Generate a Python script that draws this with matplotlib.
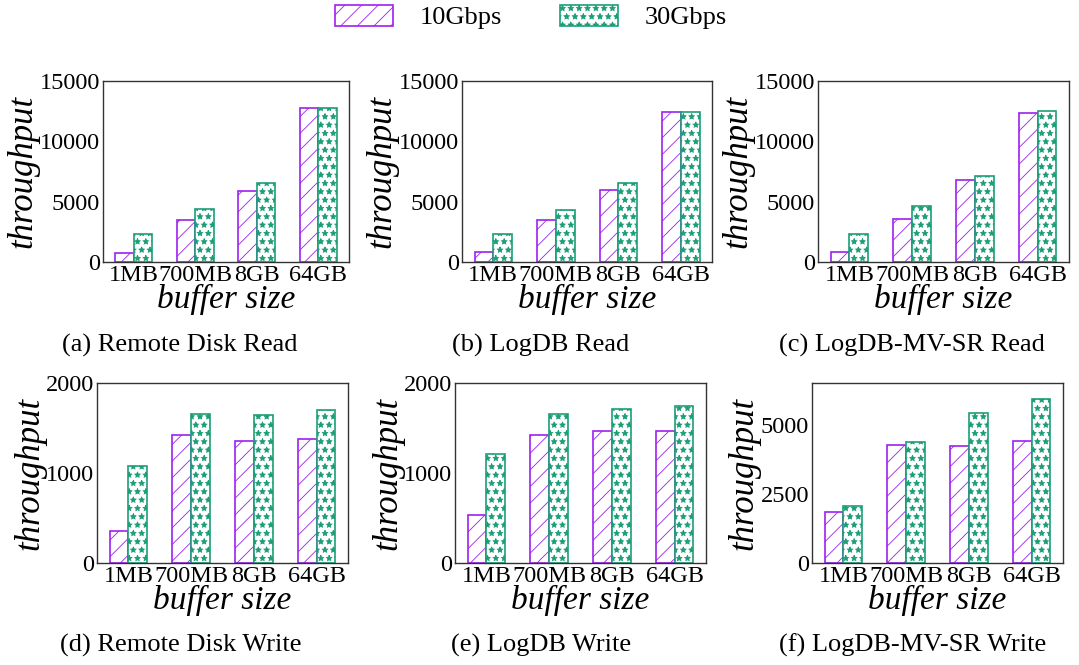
import matplotlib
matplotlib.use("Agg")
import matplotlib.pyplot as plt
import numpy as np

plt.rcParams['font.family'] = ['Liberation Serif', 'DejaVu Serif']
plt.rcParams['hatch.linewidth'] = 0.6

# data
buffer_sizes = ['1MB', '700MB', '8GB', '64GB']
series_names = ['10Gbps', '30Gbps']

remote_read_10 = [780, 3510, 5910, 12790]
remote_read_30 = [2290, 4360, 6520, 12790]
logdb_read_10 = [860, 3510, 5970, 12460]
logdb_read_30 = [2350, 4340, 6570, 12460]
mvsr_read_10 = [860, 3590, 6770, 12380]
mvsr_read_30 = [2290, 4670, 7150, 12490]

remote_write_10 = [360, 1426, 1360, 1381]
remote_write_30 = [1081, 1652, 1641, 1700]
logdb_write_10 = [537, 1419, 1470, 1467]
logdb_write_30 = [1211, 1656, 1715, 1744]
mvsr_write_10 = [1850, 4250, 4225, 4420]
mvsr_write_30 = [2046, 4380, 5400, 5930]

captions = ['(a) Remote Disk Read', '(b) LogDB Read', '(c) LogDB-MV-SR Read',
            '(d) Remote Disk Write', '(e) LogDB Write', '(f) LogDB-MV-SR Write']
panel_data = [
    (remote_read_10, remote_read_30), (logdb_read_10, logdb_read_30),
    (mvsr_read_10, mvsr_read_30), (remote_write_10, remote_write_30),
    (logdb_write_10, logdb_write_30), (mvsr_write_10, mvsr_write_30),
]
y_limits = [15000, 15000, 15000, 2000, 2000, 6500]
y_ticks = [[0, 5000, 10000, 15000]] * 3 + [[0, 1000, 2000]] * 2 + [[0, 2500, 5000]]

# axes boxes in pixels: left, right, top, bottom
W, H = 1079, 665
boxes = [(103, 349, 81, 262), (462, 712, 81, 262), (818, 1069, 81, 262),
         (97, 348, 383, 563), (455, 706, 383, 563), (812, 1063, 383, 563)]
caption_x = [180, 541, 912, 181, 541, 913]
caption_y = [345, 645]

PURPLE = '#a020f0'
GREEN = '#1b9e77'

fig = plt.figure(figsize=(W / 100, H / 100), dpi=100)
x = np.arange(len(buffer_sizes))
width = 0.3

for i, (l, r, t, b) in enumerate(boxes):
    ax = fig.add_axes([l / W, 1 - b / H, (r - l) / W, (b - t) / H])
    v10, v30 = panel_data[i]
    ax.bar(x - width / 2, v10, width, facecolor='white', edgecolor=PURPLE,
           hatch='//', linewidth=1.2, label=series_names[0])
    ax.bar(x + width / 2, v30, width, facecolor='white', edgecolor=GREEN,
           hatch='**', linewidth=1.2, label=series_names[1])
    ax.set_xlim(-0.5, 3.5)
    ax.set_ylim(0, y_limits[i])
    ax.set_yticks(y_ticks[i])
    ax.set_xticks(x)
    ax.set_xticklabels(buffer_sizes)
    ax.tick_params(labelsize=17.5, length=0, pad=2)
    for s in ax.spines.values():
        s.set_color('#333333')
        s.set_linewidth(1.0)
    ax.set_xlabel('buffer size', fontsize=24, style='italic', labelpad=-1)
    ax.set_ylabel('throughput', fontsize=25, style='italic', labelpad=0)
    row = i // 3
    fig.text(caption_x[i] / W, 1 - caption_y[row] / H, captions[i],
             fontsize=19, ha='center', va='center')
    if i == 0:
        handles, labels = ax.get_legend_handles_labels()

fig.legend(handles, labels, loc='center', bbox_to_anchor=(531 / W, 1 - 17 / H),
           ncol=2, frameon=False, fontsize=19, handlelength=2.2,
           handleheight=0.85, handletextpad=1.0, columnspacing=2.2)

fig.savefig('out.png', dpi=100)
